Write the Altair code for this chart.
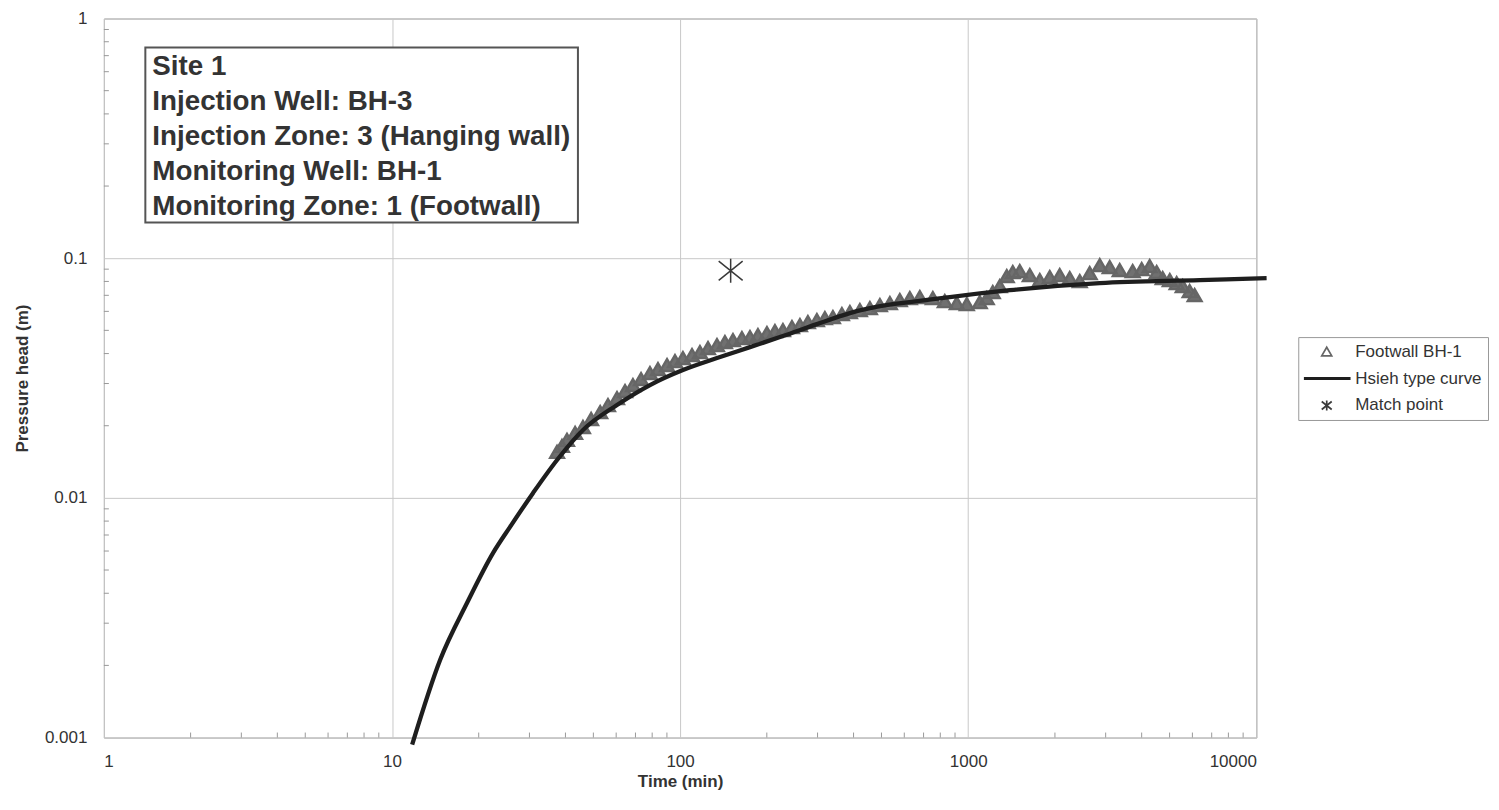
import altair as alt
import pandas as pd

# ---------------- data ----------------
series_names = ["Footwall BH-1", "Hsieh type curve", "Match point"]

foot_t = [37.4, 38.9, 40.5, 43.2, 46.0, 49.1, 52.8, 56.2, 60.4, 64.4, 68.6, 73.2,
          78.6, 83.8, 90.1, 96.0, 102.3, 110.0, 117.2, 125.0, 134.3, 143.1, 152.6,
          163.9, 174.8, 186.3, 200.2, 213.4, 227.5, 244.5, 260.6, 277.7, 298.4,
          318.1, 339.2, 364.4, 388.5, 420.7, 455.8, 493.7, 534.8, 579.0, 627.2,
          679.3, 753.9, 829.4, 912.9, 988.9, 1097, 1160, 1217, 1287, 1361, 1428,
          1510, 1636, 1772, 1919, 2078, 2251, 2439, 2641, 2861, 3098, 3356, 3723,
          4001, 4265, 4510, 4732, 5008, 5291, 5553, 5869, 6109]
foot_h = [0.01555, 0.01647, 0.01745, 0.01866, 0.01976, 0.02134, 0.02282, 0.02441,
          0.02610, 0.02791, 0.02957, 0.03132, 0.03318, 0.03448, 0.03583, 0.03723,
          0.03831, 0.03944, 0.04059, 0.04217, 0.04340, 0.04467, 0.04553, 0.04642,
          0.04686, 0.04777, 0.04870, 0.04964, 0.05012, 0.05158, 0.05258, 0.05412,
          0.05517, 0.05623, 0.05677, 0.05843, 0.05957, 0.06072, 0.06190, 0.06370,
          0.06494, 0.06683, 0.06813, 0.06879, 0.06813, 0.06619, 0.06494, 0.06431,
          0.06556, 0.06813, 0.07217, 0.0765, 0.0842, 0.0875, 0.0883, 0.0850,
          0.0810, 0.0834, 0.0850, 0.0826, 0.0802, 0.0866, 0.0935, 0.0918, 0.0892,
          0.0883, 0.0900, 0.0927, 0.0875, 0.0826, 0.0810, 0.0787, 0.0765, 0.0729,
          0.0702]

curve_t = [11.75, 14.70, 18.23, 22.44, 25.70, 30.89, 37.41, 46.03, 60.40, 78.62,
           102.3, 134.3, 174.8, 227.5, 298.4, 388.5, 863.4, 1394, 2861, 6359, 10857]
curve_h = [0.000935, 0.002113, 0.003652, 0.005899, 0.007571, 0.01049, 0.01439,
           0.01920, 0.02441, 0.02957, 0.03415, 0.03831, 0.04256, 0.04732, 0.05309,
           0.05900, 0.06879, 0.07356, 0.07868, 0.08099, 0.08254]

match_t = [149.8]
match_h = [0.0886]

x_ticks = [1, 10, 100, 1000, 10000]
y_ticks = [0.001, 0.01, 0.1, 1]
x_minor = [m * 10 ** k for k in range(4) for m in range(2, 10)]
y_minor = [m * 10.0 ** k for k in (-3, -2, -1) for m in range(2, 10)]

box_lines = ["Site 1", "Injection Well: BH-3", "Injection Zone: 3 (Hanging wall)",
             "Monitoring Well: BH-1", "Monitoring Zone: 1 (Footwall)"]

# annotation placement (data coordinates)
BOX_T = (1.393, 44.2)
BOX_H = (0.757, 0.141)
TEXT_T = 1.473
TEXT_H = 0.579

FONT = "Liberation Sans"

xs = alt.Scale(type="log", domain=[1, 10000], nice=False)
ys = alt.Scale(type="log", domain=[0.001, 1], nice=False)

asterisk = "M0,-1L0,1M-1,-0.8L1,0.8M-1,0.8L1,-0.8"
thick_line = "M-4.4,-0.14L4.6,-0.14L4.6,0.14L-4.4,0.14Z"

legend = alt.Legend(title=None, orient="none", legendX=1196, legendY=319,
                    labelFontSize=17, labelFont=FONT, labelColor="#333",
                    symbolSize=100, symbolStrokeWidth=1.7, strokeColor="#999",
                    fillColor="white", padding=6, rowPadding=9, symbolOffset=14,
                    labelOffset=20)
color = alt.Color("series:N", scale=alt.Scale(domain=series_names,
                  range=["#666666", "#1e1e1e", "#3a3a3a"]), legend=legend)
shape = alt.Shape("series:N", scale=alt.Scale(domain=series_names,
                  range=["triangle-up", thick_line, asterisk]), legend=legend)

x_axis = alt.Axis(values=x_ticks, format="d", title="Time (min)", grid=True,
                  gridColor="#c8c8c8", ticks=False, domain=False,
                  labelFontSize=17, labelFont=FONT, labelColor="#333",
                  labelPadding=16, titleFontSize=17, titleFont=FONT,
                  titleFontWeight="bold", titleColor="#333", titleX=577,
                  titleY=44, titleBaseline="middle")
y_axis = alt.Axis(values=y_ticks, format="~g", title="Pressure head (m)", grid=True,
                  gridColor="#c8c8c8", ticks=False, domain=False,
                  labelFontSize=17, labelFont=FONT, labelColor="#333",
                  labelPadding=17, titleFontSize=17, titleFont=FONT,
                  titleFontWeight="bold", titleColor="#333", titleX=-81,
                  titleY=360, titleBaseline="middle", titleAlign="center")

foot_df = pd.DataFrame({"t": foot_t, "h": foot_h, "series": series_names[0]})
curve_df = pd.DataFrame({"t": curve_t, "h": curve_h, "series": series_names[1]})
match_df = pd.DataFrame({"t": match_t, "h": match_h, "series": series_names[2]})
xminor_df = pd.DataFrame({"t": x_minor})
yminor_df = pd.DataFrame({"h": y_minor})
box_df = pd.DataFrame({"t": [BOX_T[0]], "t2": [BOX_T[1]], "h": [BOX_H[0]], "h2": [BOX_H[1]]})
text_df = pd.DataFrame({"t": [TEXT_T], "h": [TEXT_H]})

# solid body of the dense marker band (same data, no legend entry)
foot_fill = alt.Chart(foot_df).mark_point(filled=True, shape="triangle-up", size=190,
                                          color="#707070", opacity=1).encode(
    x=alt.X("t:Q", scale=xs, axis=x_axis),
    y=alt.Y("h:Q", scale=ys, axis=y_axis))

foot = alt.Chart(foot_df).mark_point(filled=False, size=190, strokeWidth=2.4, opacity=1).encode(
    x=alt.X("t:Q", scale=xs), y=alt.Y("h:Q", scale=ys),
    color=color, shape=shape)

curve = alt.Chart(curve_df).mark_line(strokeWidth=4.3, interpolate="monotone").encode(
    x=alt.X("t:Q", scale=xs), y=alt.Y("h:Q", scale=ys), color=color)

match = alt.Chart(match_df).mark_point(filled=False, size=576, strokeWidth=1.5, opacity=1).encode(
    x=alt.X("t:Q", scale=xs), y=alt.Y("h:Q", scale=ys), color=color, shape=shape)

xminor = alt.Chart(xminor_df).mark_rule(color="#999", strokeWidth=1).encode(
    x=alt.X("t:Q", scale=xs), y=alt.value(720), y2=alt.value(715))
yminor = alt.Chart(yminor_df).mark_rule(color="#999", strokeWidth=1).encode(
    y=alt.Y("h:Q", scale=ys), x=alt.value(0), x2=alt.value(5))

box = alt.Chart(box_df).mark_rect(fill="white", stroke="#555", strokeWidth=2).encode(
    x=alt.X("t:Q", scale=xs), x2="t2:Q", y=alt.Y("h:Q", scale=ys), y2="h2:Q")
text = alt.Chart(text_df).mark_text(text=box_lines, align="left", baseline="alphabetic",
                                    fontSize=27.8, fontWeight="bold", font=FONT,
                                    lineHeight=35, color="#333").encode(
    x=alt.X("t:Q", scale=xs), y=alt.Y("h:Q", scale=ys))

chart = alt.layer(foot_fill, foot, xminor, yminor, curve, match, box, text).properties(
    width=1154, height=720,
    autosize=alt.AutoSizeParams(type="none"),
    padding={"left": 96, "top": 10, "right": 235, "bottom": 64},
    background="white",
).configure_view(stroke="#999", strokeWidth=1)

chart.save("out.html", embed_options={"renderer": "svg", "actions": False})
